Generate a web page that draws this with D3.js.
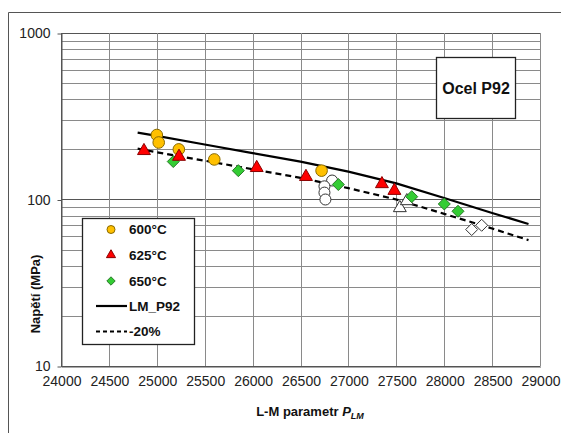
<!DOCTYPE html>
<html>
<head>
<meta charset="utf-8">
<script src="https://cdn.jsdelivr.net/npm/d3@7"></script>
<style>
  body { margin: 0; background: #fff; }
  text { font-family: "Liberation Sans", Arial, sans-serif; }
</style>
</head>
<body>
<div id="chart"></div>
<script>
const width = 561;
const height = 433;

// data
const xTicks = [24000, 24500, 25000, 25500, 26000, 26500, 27000, 27500, 28000, 28500, 29000];
const yTicks = [10, 100, 1000];

const t600 = [[25000, 244], [25020, 220], [25230, 200], [25600, 174], [26720, 149]];
const t625 = [[24866, 196], [25232, 181], [26043, 155], [26557, 137], [27350, 124], [27480, 113]];
const t650 = [[25172, 169], [25851, 149], [26895, 123], [27661, 104], [28001, 94], [28144, 85]];

const openCircles = [[26830, 130], [26750, 120], [26750, 110], [26760, 100]];
const openTriangles = [[27537, 89], [27610, 98]];
const openDiamonds = [[28287, 66], [28391, 70]];

const lmP = [24800, 25000, 25500, 26000, 26500, 27000, 27500, 28000, 28500, 28880];
const lmValues = [252, 241, 214, 190, 169, 147, 125, 102, 83, 71.3];
const minus20 = [202, 192, 171, 152, 135, 117, 100, 82, 67, 57];

const svg = d3
  .select("#chart")
  .append("svg")
  .attr("width", width)
  .attr("height", height);

const x = d3.scaleLinear().domain([24000, 29000]).range([61, 540]);
const y = d3.scaleLog().domain([10, 1000]).range([366, 33]);

// outer frame
svg.append("path")
  .attr("d", `M8.5,${height} V12.5 H${width}`)
  .attr("fill", "none")
  .attr("stroke", "#555")
  .attr("stroke-width", 1);

// minor horizontal grid
const minor = [];
[10, 100].forEach((dec) => {
  for (let k = 2; k <= 9; k++) minor.push(k * dec);
});

const grid = svg.append("g");
grid.selectAll("line.h")
  .data(minor.concat(yTicks))
  .join("line")
  .attr("x1", x(24000))
  .attr("x2", x(29000))
  .attr("y1", (d) => Math.round(y(d)) + 0.5)
  .attr("y2", (d) => Math.round(y(d)) + 0.5)
  .attr("stroke", (d) => (yTicks.includes(d) ? "#555" : "#8a8a8a"))
  .attr("stroke-width", 1);

grid.selectAll("line.v")
  .data(xTicks)
  .join("line")
  .attr("x1", (d) => Math.round(x(d)) + 0.5)
  .attr("x2", (d) => Math.round(x(d)) + 0.5)
  .attr("y1", y(1000))
  .attr("y2", y(10))
  .attr("stroke", (d) => (d === 24000 ? "#555" : "#8a8a8a"))
  .attr("stroke-width", 1);

// axes
const xAxis = svg.append("g")
  .attr("transform", `translate(0.5 ${Math.round(y(10)) + 0.5})`)
  .call(d3.axisBottom(x).tickValues(xTicks).tickFormat(d3.format("d")).tickSize(0).tickPadding(10));
xAxis.select(".domain").attr("stroke", "#555");
xAxis.selectAll("text").attr("font-size", 14).attr("fill", "#222").attr("font-family", "Liberation Sans, Arial, sans-serif");

const yAxis = svg.append("g")
  .attr("transform", `translate(${Math.round(x(24000)) + 0.5} 0.5)`)
  .call(d3.axisLeft(y).tickValues(yTicks).tickFormat(d3.format("d")).tickSize(4).tickSizeOuter(0).tickPadding(7));
yAxis.select(".domain").attr("stroke", "#555");
yAxis.selectAll("line").attr("stroke", "#555");
yAxis.selectAll("text").attr("font-size", 14).attr("fill", "#222").attr("font-family", "Liberation Sans, Arial, sans-serif");

// lines
const line = d3.line().x((d) => x(d[0])).y((d) => y(d[1]));
svg.append("path")
  .datum(lmP.map((p, i) => [p, lmValues[i]]))
  .attr("d", line)
  .attr("fill", "none")
  .attr("stroke", "#000")
  .attr("stroke-width", 2.2);
svg.append("path")
  .datum(lmP.map((p, i) => [p, minus20[i]]))
  .attr("d", line)
  .attr("fill", "none")
  .attr("stroke", "#000")
  .attr("stroke-width", 2.2)
  .attr("stroke-dasharray", "6,4");

// marker shapes
const tri = d3.symbol(d3.symbolTriangle, 72)();
const diamond = (s) => `M0,${-s}L${s},0L0,${s}L${-s},0Z`;

const marks = svg.append("g");

marks.selectAll("circle.open")
  .data(openCircles)
  .join("circle")
  .attr("cx", (d) => x(d[0]))
  .attr("cy", (d) => y(d[1]))
  .attr("r", 5.5)
  .attr("fill", "#fff")
  .attr("stroke", "#333");

marks.selectAll("path.otri")
  .data(openTriangles)
  .join("path")
  .attr("d", tri)
  .attr("transform", (d) => `translate(${x(d[0])} ${y(d[1])})`)
  .attr("fill", "#fff")
  .attr("stroke", "#333");

marks.selectAll("path.odia")
  .data(openDiamonds)
  .join("path")
  .attr("d", diamond(6))
  .attr("transform", (d) => `translate(${x(d[0])} ${y(d[1])})`)
  .attr("fill", "#fff")
  .attr("stroke", "#333");

marks.selectAll("circle.c600")
  .data(t600)
  .join("circle")
  .attr("cx", (d) => x(d[0]))
  .attr("cy", (d) => y(d[1]))
  .attr("r", 5.8)
  .attr("fill", "#FFC000")
  .attr("stroke", "#8a6a00");

marks.selectAll("path.c650")
  .data(t650)
  .join("path")
  .attr("d", diamond(6))
  .attr("transform", (d) => `translate(${x(d[0])} ${y(d[1])})`)
  .attr("fill", "#33CC33")
  .attr("stroke", "#2a7a2a");

marks.selectAll("path.c625")
  .data(t625)
  .join("path")
  .attr("d", tri)
  .attr("transform", (d) => `translate(${x(d[0])} ${y(d[1])})`)
  .attr("fill", "#FF0000")
  .attr("stroke", "#8a0000");

// legend
const legend = svg.append("g");
legend.append("rect")
  .attr("x", 82.5).attr("y", 218.5)
  .attr("width", 112).attr("height", 126)
  .attr("fill", "#fff").attr("stroke", "#222").attr("stroke-width", 1.3);

const legItems = ["600°C", "625°C", "650°C", "LM_P92", "-20%"];
const legY = [229.5, 255, 281, 306, 331.5];
legend.selectAll("text")
  .data(legItems)
  .join("text")
  .attr("x", 129)
  .attr("y", (d, i) => legY[i])
  .attr("dy", "0.36em")
  .attr("font-size", 13.5)
  .attr("font-weight", "bold")
  .attr("fill", "#111")
  .text((d) => d);

legend.append("circle").attr("cx", 111).attr("cy", legY[0]).attr("r", 4)
  .attr("fill", "#FFC000").attr("stroke", "#8a6a00");
legend.append("path").attr("d", d3.symbol(d3.symbolTriangle, 36)())
  .attr("transform", `translate(111 ${legY[1]})`)
  .attr("fill", "#FF0000").attr("stroke", "#8a0000");
legend.append("path").attr("d", diamond(4.2))
  .attr("transform", `translate(111 ${legY[2]})`)
  .attr("fill", "#33CC33").attr("stroke", "#2a7a2a");
legend.append("line").attr("x1", 96).attr("x2", 127).attr("y1", legY[3]).attr("y2", legY[3])
  .attr("stroke", "#000").attr("stroke-width", 2.2);
legend.append("line").attr("x1", 96).attr("x2", 127).attr("y1", legY[4]).attr("y2", legY[4])
  .attr("stroke", "#000").attr("stroke-width", 2.2).attr("stroke-dasharray", "4,3");

// title box
svg.append("rect")
  .attr("x", 436.5).attr("y", 57.5)
  .attr("width", 79).attr("height", 61)
  .attr("fill", "#fff").attr("stroke", "#222").attr("stroke-width", 1.3);
svg.append("text")
  .attr("x", 476).attr("y", 88)
  .attr("dy", "0.36em")
  .attr("text-anchor", "middle")
  .attr("font-size", 16)
  .attr("font-weight", "bold")
  .attr("fill", "#111")
  .text("Ocel P92");

// axis titles
const xt = svg.append("text")
  .attr("x", 310).attr("y", 416)
  .attr("text-anchor", "middle")
  .attr("font-size", 13)
  .attr("font-weight", "bold")
  .attr("fill", "#111");
xt.append("tspan").text("L-M parametr ");
xt.append("tspan").attr("font-style", "italic").text("P");
xt.append("tspan").attr("font-style", "italic").attr("font-size", 9).attr("dy", 3).text("LM");

svg.append("text")
  .attr("transform", "translate(40 294) rotate(-90)")
  .attr("text-anchor", "middle")
  .attr("font-size", 13)
  .attr("font-weight", "bold")
  .attr("fill", "#111")
  .text("Napětí (MPa)");
</script>
</body>
</html>
